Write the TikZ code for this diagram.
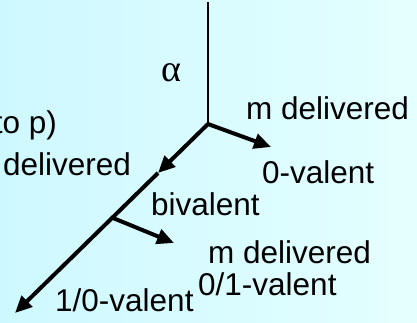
\documentclass[tikz,border=0pt]{standalone}
\usepackage{fontspec}
\setmainfont{Liberation Sans}
\newfontfamily\greekserif{Liberation Serif}
\usetikzlibrary{arrows.meta}
\definecolor{bgleft}{RGB}{206,248,255}
\definecolor{bgright}{RGB}{228,255,255}
\begin{document}
\begin{tikzpicture}[x=1pt,y=-1pt,
  lbl/.style={anchor=base west, inner sep=0pt, font=\fontsize{31.5}{36}\selectfont},
  lblr/.style={anchor=base east, inner sep=0pt, font=\fontsize{31.5}{36}\selectfont},
  thinline/.style={line width=2pt},
  thickarrow/.style={line width=4pt, -{Triangle[length=17pt,width=15pt]}},
]
\useasboundingbox (0,0) rectangle (417,322);
\clip (0,0) rectangle (417,322);
\shade[left color=bgleft, right color=bgright] (0,0) rectangle (417,322);
\coordinate (top) at (208,2);
\coordinate (j) at (208,124);
\coordinate (m1) at (158,173);
\coordinate (b) at (113,218);
\coordinate (e) at (15,313);
\coordinate (t1) at (271,147);
\coordinate (t2) at (174,243);
\draw[thinline] (top) -- (j);
\draw[thickarrow] (j) -- (m1);
\draw[thickarrow] (m1) -- (e);
\draw[thickarrow] (j) -- (t1);
\draw[thickarrow] (b) -- (t2);
\node[anchor=center, inner sep=0pt, font=\greekserif\fontsize{38}{44}\selectfont] (alpha) at (171.5,72.5) {α};
\node[lblr] (top) at (57,133) {(to p)};
\node[lbl] (dl) at (3,175) {delivered};
\node[lbl] (md1) at (246,119) {m delivered};
\node[lbl] (v0) at (262,183) {0-valent};
\node[lbl] (biv) at (151,215) {bivalent};
\node[lbl] (md2) at (208,263) {m delivered};
\node[lbl] (v01) at (198,295) {0/1-valent};
\node[lbl] (v10) at (55,311) {1/0-valent};
\end{tikzpicture}
\end{document}
